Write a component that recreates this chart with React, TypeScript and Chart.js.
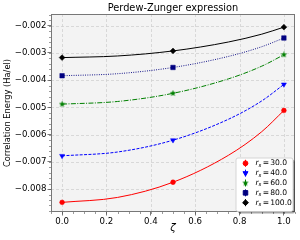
import React, { useEffect, useRef } from 'react';
import { Chart, registerables } from 'chart.js';
import { drawPoint } from 'chart.js/helpers';

Chart.register(...registerables);

// ---------- data ----------
const zeta = [0, 0.25, 0.5, 0.75, 0.9, 1.0];
const markerAt = [true, false, true, false, false, true];
const rsLabels = ['30.0', '40.0', '60.0', '80.0', '100.0'];
const ecRs30 = [-0.008486, -0.008305, -0.007747, -0.006757, -0.005892, -0.005112];
const ecRs40 = [-0.006778, -0.006637, -0.006203, -0.005434, -0.004762, -0.004156];
const ecRs60 = [-0.00488, -0.004782, -0.004482, -0.003951, -0.003486, -0.003066];
const ecRs80 = [-0.003837, -0.003762, -0.003533, -0.003127, -0.002771, -0.002451];
const ecRs100 = [-0.003171, -0.003111, -0.002926, -0.002598, -0.002311, -0.002052];
const xMajorTicks = [0, 0.2, 0.4, 0.6, 0.8, 1.0];
const yMajorTicks = [-0.008, -0.007, -0.006, -0.005, -0.004, -0.003, -0.002];
const titleText = 'Perdew-Zunger expression';
const yLabelText = 'Correlation Energy (Ha/el)';
const xLabelText = 'ζ';

const seriesValues = [ecRs30, ecRs40, ecRs60, ecRs80, ecRs100];

// ---------- styles ----------
const FONT = "'DejaVu Sans', sans-serif";

function makeStar(color: string, size: number) {
  const c = document.createElement('canvas');
  c.width = size;
  c.height = size;
  const g = c.getContext('2d')!;
  const cx = size / 2, cy = size / 2, R = size / 2, r = R * 0.4;
  g.beginPath();
  for (let i = 0; i < 10; i++) {
    const a = -Math.PI / 2 + (i * Math.PI) / 5;
    const rad = i % 2 === 0 ? R : r;
    g.lineTo(cx + rad * Math.cos(a), cy + rad * Math.sin(a));
  }
  g.closePath();
  g.fillStyle = color;
  g.fill();
  return c;
}

type SStyle = { color: string; dash: number[]; point: any; radius: number; rotation: number };

function getStyles(): SStyle[] {
  return [
    { color: '#ff0000', dash: [], point: 'circle', radius: 2.4, rotation: 0 },
    { color: '#0000ff', dash: [3, 1.4], point: 'triangle', radius: 2.9, rotation: 180 },
    { color: '#008000', dash: [5, 1.4, 1, 1.4], point: makeStar('#008000', 7), radius: 3.5, rotation: 0 },
    { color: '#000080', dash: [0.9, 1.4], point: 'rect', radius: 3.2, rotation: 0 },
    { color: '#000000', dash: [], point: 'rectRot', radius: 2.9, rotation: 0 },
  ];
}

export default function App() {
  const ref = useRef<HTMLCanvasElement>(null);

  useEffect(() => {
    document.body.style.margin = '0';
    const styles = getStyles();

    const decor = {
      id: 'decor',
      beforeDraw(chart: any) {
        const { ctx, chartArea: a, scales } = chart;
        ctx.save();
        ctx.fillStyle = '#ffffff';
        ctx.fillRect(0, 0, chart.width, chart.height);
        ctx.fillStyle = '#f3f3f3';
        ctx.fillRect(a.left, a.top, a.right - a.left, a.bottom - a.top);
        ctx.strokeStyle = '#d0d0d0';
        ctx.lineWidth = 0.8;
        ctx.setLineDash([3, 2]);
        for (const v of xMajorTicks) {
          const px = Math.round(scales.x.getPixelForValue(v)) + 0.5;
          ctx.beginPath();
          ctx.moveTo(px, a.top);
          ctx.lineTo(px, a.bottom);
          ctx.stroke();
        }
        for (const v of yMajorTicks) {
          const py = Math.round(scales.y.getPixelForValue(v)) + 0.5;
          ctx.beginPath();
          ctx.moveTo(a.left, py);
          ctx.lineTo(a.right, py);
          ctx.stroke();
        }
        ctx.restore();
      },
      afterDraw(chart: any) {
        const { ctx, chartArea: a, scales } = chart;
        ctx.save();
        // minor ticks
        ctx.strokeStyle = '#555';
        ctx.lineWidth = 0.6;
        ctx.setLineDash([]);
        const xs = scales.x, ys = scales.y;
        for (let k = -20; k <= 40; k++) {
          const v = k * 0.05;
          if (v < xs.min - 1e-9 || v > xs.max + 1e-9) continue;
          const px = Math.round(xs.getPixelForValue(v)) + 0.5;
          ctx.beginPath();
          ctx.moveTo(px, a.bottom);
          ctx.lineTo(px, a.bottom + 2);
          ctx.stroke();
        }
        for (let k = -60; k <= 0; k++) {
          const v = k * 0.0002;
          if (v < ys.min - 1e-12 || v > ys.max + 1e-12) continue;
          const py = Math.round(ys.getPixelForValue(v)) + 0.5;
          ctx.beginPath();
          ctx.moveTo(a.left, py);
          ctx.lineTo(a.left - 2, py);
          ctx.stroke();
        }
        // frame
        ctx.strokeStyle = '#777777';
        ctx.lineWidth = 1;
        ctx.strokeRect(Math.round(a.left) + 0.5, Math.round(a.top) + 0.5, Math.round(a.right - a.left) - 1, Math.round(a.bottom - a.top) - 1);

        // title
        ctx.fillStyle = '#000';
        ctx.textAlign = 'center';
        ctx.textBaseline = 'middle';
        ctx.font = `9.8px ${FONT}`;
        ctx.fillText(titleText, (a.left + a.right) / 2, 8.5);
        // x label
        ctx.font = `italic 10px ${FONT}`;
        ctx.fillText(xLabelText, (a.left + a.right) / 2, 228);
        // y label
        ctx.save();
        ctx.translate(8, (a.top + a.bottom) / 2);
        ctx.rotate(-Math.PI / 2);
        ctx.font = `8.3px ${FONT}`;
        ctx.fillText(yLabelText, 0, 0);
        ctx.restore();

        // legend
        const bx = 236, by = 158, bw = 57, bh = 53.5;
        const rr = (x: number, y: number, w: number, h: number, r: number) => {
          ctx.beginPath();
          ctx.moveTo(x + r, y);
          ctx.lineTo(x + w - r, y);
          ctx.quadraticCurveTo(x + w, y, x + w, y + r);
          ctx.lineTo(x + w, y + h - r);
          ctx.quadraticCurveTo(x + w, y + h, x + w - r, y + h);
          ctx.lineTo(x + r, y + h);
          ctx.quadraticCurveTo(x, y + h, x, y + h - r);
          ctx.lineTo(x, y + r);
          ctx.quadraticCurveTo(x, y, x + r, y);
          ctx.closePath();
        };
        rr(bx + 2, by + 2, bw, bh, 2);
        ctx.fillStyle = 'rgba(0,0,0,0.35)';
        ctx.fill();
        rr(bx, by, bw, bh, 2);
        ctx.fillStyle = '#ffffff';
        ctx.fill();
        ctx.strokeStyle = '#cccccc';
        ctx.lineWidth = 0.8;
        ctx.stroke();

        for (let i = 0; i < rsLabels.length; i++) {
          const st = styles[i];
          const y = 163.3 + i * 9.85;
          const mx = 245;
          ctx.strokeStyle = st.color;
          ctx.fillStyle = st.color;
          ctx.lineWidth = 1;
          ctx.beginPath();
          ctx.moveTo(mx + 0.5, y - 3.5);
          ctx.lineTo(mx + 0.5, y + 3.5);
          ctx.stroke();
          drawPoint(ctx, { pointStyle: st.point, radius: st.radius, rotation: st.rotation, borderWidth: 0.5 } as any, mx + 0.5, y);

          ctx.fillStyle = '#000';
          ctx.textAlign = 'left';
          ctx.textBaseline = 'middle';
          let tx = 255.5;
          ctx.font = `italic 7.6px ${FONT}`;
          ctx.fillText('r', tx, y);
          tx += ctx.measureText('r').width;
          ctx.font = `italic 5.4px ${FONT}`;
          ctx.fillText('s', tx, y + 2);
          tx += ctx.measureText('s').width + 1.2;
          ctx.font = `7.6px ${FONT}`;
          ctx.fillText('=', tx, y);
          tx += ctx.measureText('=').width + 1.2;
          ctx.fillText(rsLabels[i], tx, y);
        }
        ctx.restore();
      },
    };

    const datasets = seriesValues.map((vals, i) => {
      const st = styles[i];
      return {
        label: 'rs = ' + rsLabels[i],
        data: zeta.map((x, j) => ({ x, y: vals[j] })),
        borderColor: st.color,
        backgroundColor: st.color,
        borderWidth: 1,
        borderDash: st.dash,
        cubicInterpolationMode: 'monotone' as const,
        pointStyle: st.point,
        pointRadius: markerAt.map((m) => (m ? st.radius : 0)),
        pointHoverRadius: markerAt.map((m) => (m ? st.radius : 0)),
        pointRotation: st.rotation,
        pointBackgroundColor: st.color,
        pointBorderColor: st.color,
        pointBorderWidth: 0.5,
        fill: false,
      };
    });

    const tickFont = { family: FONT, size: 8.6 };
    const chart = new Chart(ref.current!, {
      type: 'line',
      data: { datasets },
      plugins: [decor],
      options: {
        animation: false,
        responsive: false,
        devicePixelRatio: 1,
        layout: { padding: { top: 14, right: 5, left: 0, bottom: 0 } },
        plugins: { legend: { display: false }, tooltip: { enabled: false }, title: { display: false } },
        scales: {
          x: {
            type: 'linear',
            min: -0.05,
            max: 1.05,
            afterBuildTicks: (s: any) => {
              s.ticks = xMajorTicks.map((value) => ({ value }));
            },
            afterFit: (s: any) => {
              s.height = 28;
            },
            ticks: {
              font: tickFont,
              color: '#000',
              padding: 1.5,
              maxRotation: 0,
              autoSkip: false,
              callback: (v: any) => Number(v).toFixed(1),
            },
            grid: { display: true, drawOnChartArea: false, drawTicks: true, tickLength: 3.5, tickColor: '#555', tickWidth: 0.8 },
            border: { display: false },
          },
          y: {
            type: 'linear',
            min: -0.00884,
            max: -0.00157,
            afterBuildTicks: (s: any) => {
              s.ticks = yMajorTicks.map((value) => ({ value }));
            },
            afterFit: (s: any) => {
              s.width = 51;
            },
            ticks: {
              font: tickFont,
              color: '#000',
              padding: 1,
              autoSkip: false,
              callback: (v: any) => (Number(v) < 0 ? '\u2212' : '') + Math.abs(Number(v)).toFixed(3),
            },
            grid: { display: true, drawOnChartArea: false, drawTicks: true, tickLength: 3.5, tickColor: '#555', tickWidth: 0.8 },
            border: { display: false },
          },
        },
      },
    });
    return () => chart.destroy();
  }, []);

  return (
    <div style={{ position: 'absolute', left: 0, top: 0, width: 300, height: 240 }}>
      <canvas ref={ref} width={300} height={240} style={{ display: 'block', width: 300, height: 240 }} />
    </div>
  );
}
